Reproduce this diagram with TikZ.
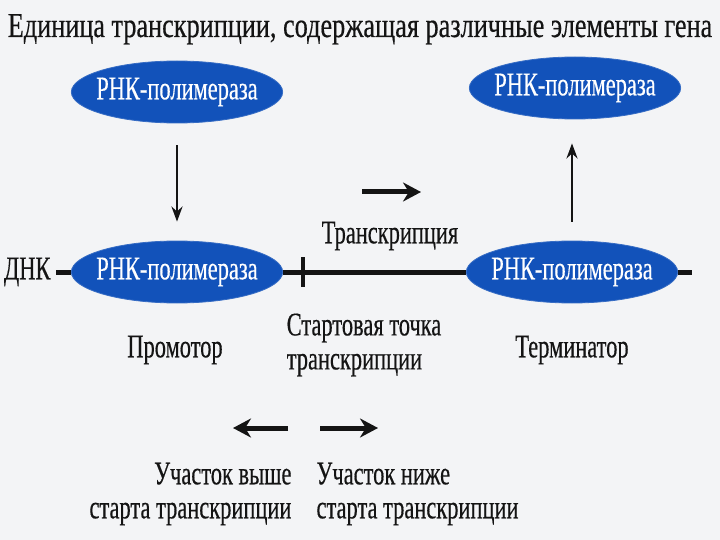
\documentclass[tikz,border=0pt]{standalone}
\usepackage{fontspec}
\setmainfont[FakeStretch=0.68,FakeBold=0.4]{Liberation Serif}
\newfontfamily\headfont[FakeStretch=0.75,FakeBold=0.4]{Liberation Serif}
\usetikzlibrary{arrows.meta,shapes.geometric,positioning}
\definecolor{GeneInk}{HTML}{141414}
\definecolor{GeneBlue}{HTML}{1252BA}
\definecolor{GenePaper}{HTML}{F3F4F6}
\tikzset{
  every node/.style={text=GeneInk},
  polymerase/.style={ellipse, fill=GeneBlue, draw=GeneBlue!85!white, line width=0.8pt,
    minimum width=210pt, minimum height=62pt, inner xsep=-6pt, inner ysep=0pt,
    text=white, font=\fontsize{33}{36}\selectfont},
  textlabel/.style={font=\fontsize{33}{34}\selectfont},
  strand/.style={draw=GeneInk, line width=5pt},
  move/.style={-{Stealth[length=15pt,width=11pt]}, draw=GeneInk, line width=2.6pt},
  heavy/.style={-{Stealth[length=18pt,width=19pt]}, draw=GeneInk, line width=5pt},
}
\begin{document}
\begin{tikzpicture}[x=1pt,y=-1pt]
  \fill[GenePaper] (0,0) rectangle (720,540);
  \useasboundingbox (0,0) rectangle (720,540);
  % heading
  \node[font=\headfont\fontsize{35}{40}\selectfont, anchor=base] (title) at (360,37)
    {Единица транскрипции, содержащая различные элементы гена};
  % free polymerase before and after transcription
  \node[polymerase] (polTopL) at (177,92) {РНК-полимераза};
  \node[polymerase] (polTopR) at (575,88) {РНК-полимераза};
  % DNA strand, y = 272
  \node[textlabel, anchor=east] (dnk) at (54,272) {ДНК};
  \node[polymerase] (polL) at (177,272) {РНК-полимераза};
  \node[polymerase] (polR) at (572,272) {РНК-полимераза};
  \coordinate (startPt) at (303,272);
  \coordinate (dnaEnd) at (692,272);
  \draw[strand] ([xshift=2pt]dnk.east) -- (polL.west);
  \draw[strand] (polL.east) -- (polR.west);
  \draw[strand] (polR.east) -- (dnaEnd);
  \draw[GeneInk, line width=3.5pt] ([yshift=15pt]startPt) -- ([yshift=-15pt]startPt);
  % binding and release
  \draw[move] ([yshift=-22pt]polTopL.south) -- ([yshift=19pt]polL.north);
  \draw[move] ([yshift=19pt]polR.north) -- ([yshift=-24pt]polR.north |- polTopR.south);
  % direction of transcription
  \node[textlabel] (trans) at (390,236) {Транскрипция};
  \coordinate (transTail) at (362,192);
  \coordinate (transHead) at (421,192);
  \draw[heavy] (transTail) -- (transHead);
  % element names
  \node[textlabel] (promoter) at (175,350) {Промотор};
  \node[textlabel, align=left] (startLbl) at (364,345) {Стартовая точка\\транскрипции};
  \node[textlabel] (terminator) at (572,350) {Терминатор};
  % upstream / downstream
  \node[textlabel, align=right, anchor=east] (upstream) at (295,494)
    {Участок выше\\старта транскрипции};
  \node[textlabel, align=left, anchor=west] (downstream) at (313,494)
    {Участок ниже\\старта транскрипции};
  \coordinate (upTail) at (288,428);
  \coordinate (upHead) at (233,428);
  \coordinate (downTail) at (320,428);
  \coordinate (downHead) at (378,428);
  \draw[heavy] (upTail) -- (upHead);
  \draw[heavy] (downTail) -- (downHead);
\end{tikzpicture}
\end{document}
